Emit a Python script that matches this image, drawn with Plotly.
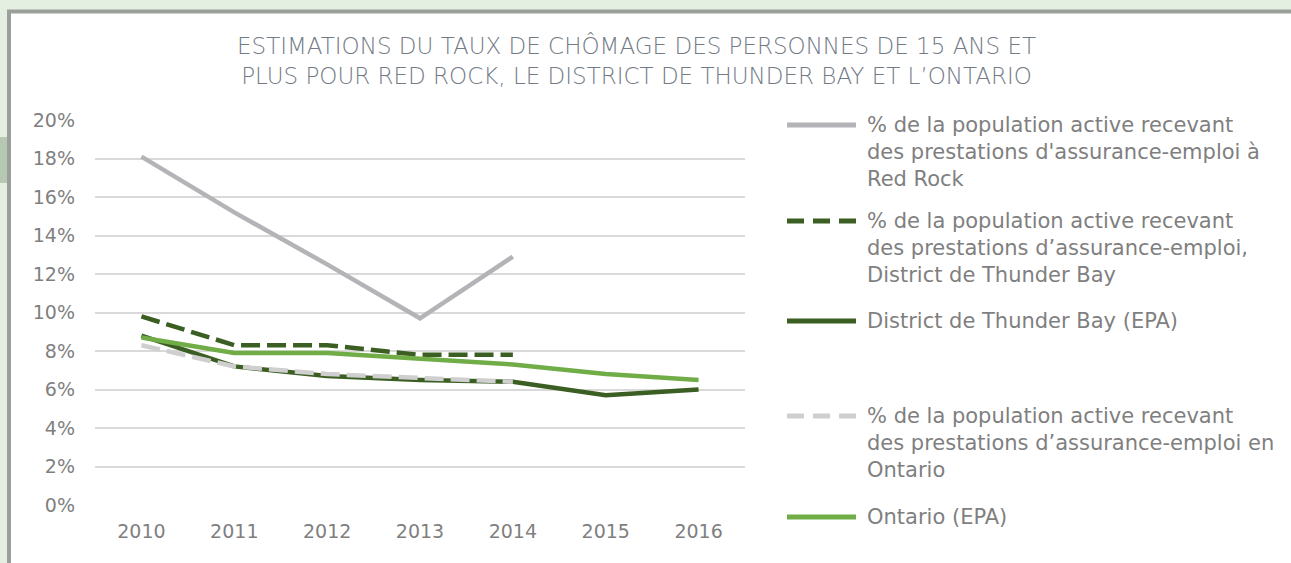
import plotly.graph_objects as go

# ---------------- data ----------------
years = ["2010", "2011", "2012", "2013", "2014", "2015", "2016"]
red_rock_ei = [18.1, 15.2, 12.5, 9.7, 12.9, None, None]
thunder_bay_ei = [9.8, 8.3, 8.3, 7.8, 7.8, None, None]
thunder_bay_epa = [8.8, 7.2, 6.7, 6.5, 6.4, 5.7, 6.0]
ontario_ei = [8.3, 7.2, 6.8, 6.6, 6.4, None, None]
ontario_epa = [8.7, 7.9, 7.9, 7.6, 7.3, 6.8, 6.5]

series_names = [
    "% de la population active recevant<br>des prestations d'assurance-emploi à<br>Red Rock",
    "% de la population active recevant<br>des prestations d’assurance-emploi,<br>District de Thunder Bay",
    "District de Thunder Bay (EPA)",
    "% de la population active recevant<br>des prestations d’assurance-emploi en<br>Ontario",
    "Ontario (EPA)",
]
series_values = [red_rock_ei, thunder_bay_ei, thunder_bay_epa, ontario_ei, ontario_epa]
series_colors = ["#b4b4b8", "#3b5e23", "#3b5e23", "#cfcfcf", "#70ad47"]
series_dash = ["solid", "19px,7px", "solid", "19px,7px", "solid"]

title_text = ("ESTIMATIONS DU TAUX DE CHÔMAGE DES PERSONNES DE 15 ANS ET<br>"
              "PLUS POUR RED ROCK, LE DISTRICT DE THUNDER BAY ET L’ONTARIO")

# ---------------- layout geometry (pixels) ----------------
W, H = 1291, 563
PL, PR, PT, PB = 95, 745, 120, 505   # plot area edges
FONT = "DejaVu Sans"
TXT = "#7f7f7f"


def px(x):
    return (x - PL) / (PR - PL)


def py(y):
    return (PB - y) / (PB - PT)


fig = go.Figure()
for name, vals, col, dash in zip(series_names, series_values, series_colors, series_dash):
    fig.add_trace(go.Scatter(
        x=years, y=vals, mode="lines", name=name.replace("<br>", " "),
        line=dict(color=col, width=4.5, dash=dash),
        connectgaps=False, showlegend=False,
    ))

shapes = [
    # outer frame
    dict(type="rect", xref="paper", yref="paper",
         x0=px(9), x1=px(1400), y0=py(11.5), y1=py(700),
         line=dict(color="#9b9f9b", width=4), fillcolor="white", layer="below"),
    # small darker tab at the left edge
    dict(type="rect", xref="paper", yref="paper",
         x0=px(-5), x1=px(7), y0=py(137), y1=py(183),
         line=dict(width=0), fillcolor="#b7c8b2", layer="below"),
]

annotations = [
    dict(text=title_text, xref="paper", yref="paper", x=px(636), y=py(60.5),
         xanchor="center", yanchor="middle", showarrow=False, align="center",
         font=dict(family=FONT, size=23, color="#737b85", weight=300)),
]

# manual legend
legend_rows = [125, 221, 321, 416, 517]
line_gap = 27
for name, col, dash, y0 in zip(series_names, series_colors, series_dash, legend_rows):
    shapes.append(dict(type="line", xref="paper", yref="paper",
                       x0=px(787), x1=px(856), y0=py(y0), y1=py(y0),
                       line=dict(color=col, width=5,
                                 dash=("17px,9px" if dash != "solid" else "solid"))))
    for i, part in enumerate(name.split("<br>")):
        annotations.append(dict(text=part, xref="paper", yref="paper",
                                x=px(865), y=py(y0 + i * line_gap),
                                xanchor="left", yanchor="middle", showarrow=False,
                                font=dict(family=FONT, size=21, color=TXT)))

fig.update_layout(
    width=W, height=H,
    margin=dict(l=PL, r=W - PR, t=PT, b=H - PB, pad=0),
    paper_bgcolor="#e4eee1",
    plot_bgcolor="rgba(0,0,0,0)",
    showlegend=False,
    shapes=shapes,
    annotations=annotations,
    font=dict(family=FONT, color=TXT),
)
fig.update_xaxes(type="category", range=[-0.5, 6.5], showgrid=False, showline=False,
                 zeroline=False, ticks="", ticklabelstandoff=13,
                 tickfont=dict(family=FONT, size=19, color=TXT))
fig.update_yaxes(range=[0, 20], dtick=2, ticksuffix="%", showgrid=True,
                 gridcolor="#d9d9d9", gridwidth=1.5, zeroline=False, showline=False,
                 ticks="", ticklabelstandoff=19,
                 tickfont=dict(family=FONT, size=19, color=TXT))

fig.write_html("out.html", config={"displayModeBar": False},
               post_script="document.body.style.margin='0';")
